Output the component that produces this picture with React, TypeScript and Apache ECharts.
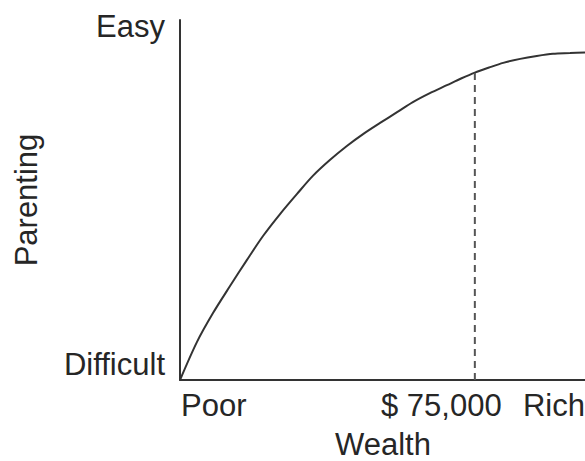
import React, { useEffect, useRef } from "react";
import * as echarts from "echarts";

// Wealth (0 = Poor, 100 = Rich) vs Parenting ease (0 = Difficult, 100 = Easy)
const wealth = [
  0, 4.2, 8.15, 12.35, 16.5, 20.5, 24.7, 28.9, 32.8, 37.0, 41.2, 45.2, 49.4,
  53.6, 57.5, 61.7, 65.9, 69.4, 72.8, 76.3, 79.8, 84.0, 88.1, 92.1, 96.3, 100,
];
const parenting = [
  0, 10.6, 18.6, 26.1, 33.3, 40.0, 46.1, 51.7, 56.7, 61.1, 65.0, 68.3, 71.4,
  74.4, 77.2, 79.7, 81.9, 83.75, 85.4, 86.8, 88.1, 89.2, 90.0, 90.6, 90.8, 91.0,
];
const thresholdWealth = 72.8;
const thresholdParenting = 85.4;

const yTop = "Easy";
const yBottom = "Difficult";
const xLeft = "Poor";
const xMid = "$ 75,000";
const xRight = "Rich";
const xName = "Wealth";
const yName = "Parenting";

export default function App() {
  const ref = useRef<HTMLDivElement>(null);
  useEffect(() => {
    if (!ref.current) return;
    const chart = echarts.init(ref.current, null, { renderer: "svg" });
    const font = "'Liberation Sans', Arial, Helvetica, sans-serif";
    const fs = 31;
    const txt = "#262626";
    const textEl = (text: string, x: number, y: number, align: string, rotation = 0) => ({
      type: "text",
      x,
      y,
      rotation,
      style: {
        text,
        fill: txt,
        fontSize: fs,
        lineHeight: 26,
        fontFamily: font,
        align,
        verticalAlign: "middle",
      },
    });
    chart.setOption({
      animation: false,
      backgroundColor: "#ffffff",
      grid: { left: 180, right: 0, top: 20, bottom: 81, containLabel: false },
      xAxis: {
        type: "value",
        min: 0,
        max: 100,
        axisLine: { show: true, lineStyle: { color: "#333", width: 2 } },
        axisTick: { show: false },
        axisLabel: { show: false },
        splitLine: { show: false },
      },
      yAxis: {
        type: "value",
        min: 0,
        max: 100,
        axisLine: { show: true, lineStyle: { color: "#333", width: 2 } },
        axisTick: { show: false },
        axisLabel: { show: false },
        splitLine: { show: false },
      },
      series: [
        {
          type: "line",
          data: wealth.map((w, i) => [w, parenting[i]]),
          smooth: 0.3,
          showSymbol: false,
          lineStyle: { color: "#333", width: 2 },
        },
        {
          type: "line",
          data: [
            [thresholdWealth, 0],
            [thresholdWealth, thresholdParenting],
          ],
          showSymbol: false,
          lineStyle: { color: "#555", width: 2, type: [7, 5] },
        },
      ],
      graphic: [
        textEl(yTop, 165, 26, "right"),
        textEl(yBottom, 165, 364, "right"),
        textEl(xLeft, 181, 405, "left"),
        textEl(xMid, 381, 405, "left"),
        textEl(xRight, 585, 405, "right"),
        textEl(xName, 383, 444, "center"),
        textEl(yName, 26, 200, "center", Math.PI / 2),
      ],
    });
    return () => chart.dispose();
  }, []);
  return <div ref={ref} style={{ width: 585, height: 461, position: "fixed", left: 0, top: 0 }} />;
}
